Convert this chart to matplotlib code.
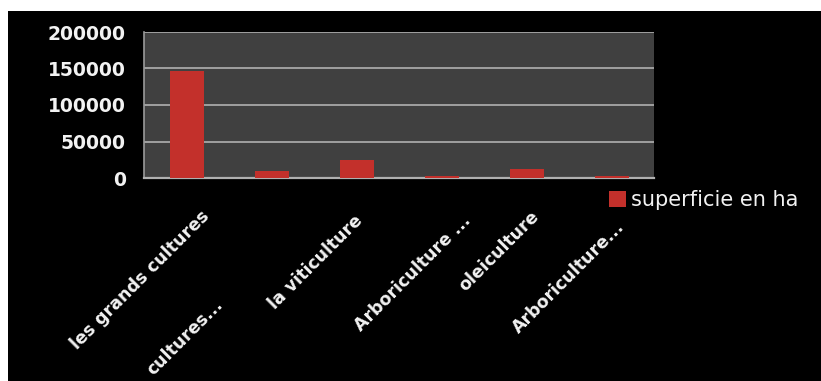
import matplotlib
matplotlib.use("Agg")
import matplotlib.pyplot as plt
from matplotlib.patches import Rectangle
from matplotlib.transforms import ScaledTranslation

categories = ["les grands cultures", "cultures...", "la viticulture",
              "Arboriculture ...", "oleiculture", "Arboriculture..."]
values = [147000, 9000, 25000, 3000, 12000, 3000]
series_name = "superficie en ha"
yticks = [0, 50000, 100000, 150000, 200000]

# per-label offsets (pixels: right, down) to mimic the original layout
label_offsets = [(20, 36), (-51, 124), (3, 40), (27, 40), (10, 36), (10, 46)]

W, H = 821, 381
fig = plt.figure(figsize=(W / 100, H / 100), dpi=100, facecolor="white")
fig.patches.append(Rectangle((8 / W, 0), 1, (H - 11) / H, transform=fig.transFigure,
                             facecolor="black", edgecolor="none", zorder=-10))

ax = fig.add_axes([144 / W, 1 - 178 / H, (654 - 144) / W, (178 - 32) / H])
ax.set_facecolor("#404040")

x = list(range(len(categories)))
ax.bar(x, values, width=0.4, color="#c3302b", zorder=3, label=series_name)

ax.set_xlim(-0.5, len(categories) - 0.5)
ax.set_ylim(0, 200000)
ax.set_yticks(yticks)
ax.set_yticklabels([str(v) for v in yticks])
ax.yaxis.grid(True, color="#a8a8a8", linewidth=1.3, zorder=1)
ax.set_axisbelow(True)

for s in ["top", "right"]:
    ax.spines[s].set_visible(False)
ax.spines["left"].set_color("#9a9a9a")
ax.spines["left"].set_linewidth(1.2)
ax.spines["bottom"].set_color("#b0b0b0")
ax.spines["bottom"].set_linewidth(1.6)

ax.tick_params(axis="y", length=0, pad=13, labelsize=13.5, labelcolor="#f2f2f2")
for lab in ax.get_yticklabels():
    lab.set_fontweight("bold")

ax.set_xticks(x)
ax.set_xticklabels(categories, rotation=45, ha="right", va="center",
                   rotation_mode="anchor", fontsize=12.5, fontweight="bold",
                   color="#f2f2f2")
ax.tick_params(axis="x", length=0, pad=0)
for lab, (dx, dy) in zip(ax.get_xticklabels(), label_offsets):
    lab.set_transform(lab.get_transform() +
                      ScaledTranslation(dx / 100, -dy / 100, fig.dpi_scale_trans))

leg = fig.legend(loc="center left", bbox_to_anchor=(609 / W, 1 - 200 / H),
                 frameon=False, fontsize=15, handlelength=0.8, handleheight=0.8,
                 handletextpad=0.25, borderpad=0, borderaxespad=0)
for t in leg.get_texts():
    t.set_color("#f2f2f2")

fig.savefig("out.png", dpi=100, facecolor=fig.get_facecolor())
